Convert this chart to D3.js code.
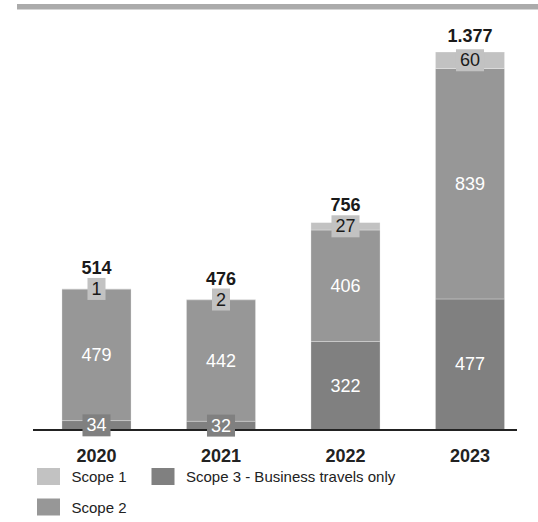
<!DOCTYPE html>
<html>
<head>
<meta charset="utf-8">
<script src="https://cdn.jsdelivr.net/npm/d3@7"></script>
<style>
  html, body { margin: 0; padding: 0; background: #fff; }
  svg { display: block; font-family: "Liberation Sans", Arial, sans-serif; }
</style>
</head>
<body>
<svg id="chart" width="538" height="522"></svg>
<script>
// Emissions by scope (tCO2e)
const years = ["2020", "2021", "2022", "2023"];
const scope3 = [34, 32, 322, 477];
const scope2 = [479, 442, 406, 839];
const scope1 = [1, 2, 27, 60];
const totals = ["514", "476", "756", "1.377"];
const seriesNames = ["Scope 3 - Business travels only", "Scope 2", "Scope 1"];
const seriesColors = ["#808080", "#979797", "#c2c2c2"];
const labelColors = ["#ffffff", "#ffffff", "#1a1a1a"];

const svg = d3.select("#chart");

// header rule
svg.append("rect").attr("x", 17).attr("y", 4).attr("width", 521).attr("height", 5.5).attr("fill", "#ababab");

const rows = years.map((y, i) => ({ year: y, s3: scope3[i], s2: scope2[i], s1: scope1[i], total: totals[i] }));
const keys = ["s3", "s2", "s1"];
const stack = d3.stack().keys(keys)(rows);

const x = d3.scaleBand().domain(years).range([34.25, 532.25]).paddingInner(0.445).paddingOuter(0.2225);
const y = d3.scaleLinear().domain([0, 1400]).range([430, 430 - 1400 * 0.2747]);

const g = svg.append("g");
stack.forEach((layer, li) => {
  g.selectAll(null).data(layer).enter().append("rect")
    .attr("x", d => x(d.data.year))
    .attr("width", x.bandwidth())
    .attr("y", d => y(d[1]))
    .attr("height", d => y(d[0]) - y(d[1]))
    .attr("fill", seriesColors[li])
    .attr("stroke", "rgba(255,255,255,0.35)")
    .attr("stroke-width", 0.8);
});

// baseline
svg.append("line").attr("x1", 33).attr("x2", 517).attr("y1", 430).attr("y2", 430)
  .attr("stroke", "#222").attr("stroke-width", 2);

// segment value labels; small segments get a backing box in the segment colour
const fs = 18;
const lbl = svg.append("g");
const boxTops = {};
stack.forEach((layer, li) => {
  layer.forEach(d => {
    const v = d[1] - d[0];
    const cx = x(d.data.year) + x.bandwidth() / 2;
    const cy = (y(d[0]) + y(d[1])) / 2;
    const h = y(d[0]) - y(d[1]);
    const t = lbl.append("text")
      .attr("x", cx).attr("y", cy)
      .attr("text-anchor", "middle").attr("dominant-baseline", "central")
      .attr("font-size", fs).attr("fill", labelColors[li]).text(String(v));
    if (h < 22) {
      const w = t.node().getComputedTextLength() + 8;
      lbl.insert("rect", () => t.node())
        .attr("x", cx - w / 2).attr("y", cy - 11).attr("width", w).attr("height", 22)
        .attr("fill", seriesColors[li]);
      if (li === 2) boxTops[d.data.year] = cy - 11;
    }
  });
});

// totals above each bar
rows.forEach(r => {
  const top = y(r.s1 + r.s2 + r.s3);
  let base = top - 10;
  if (boxTops[r.year] !== undefined) base = Math.min(base, boxTops[r.year] - 4);
  lbl.append("text")
    .attr("x", x(r.year) + x.bandwidth() / 2).attr("y", base)
    .attr("text-anchor", "middle").attr("font-size", fs).attr("font-weight", "bold")
    .attr("fill", "#1a1a1a").text(r.total);
});

// category axis labels
const xAxis = d3.axisBottom(x).tickSize(0).tickPadding(0);
const ax = svg.append("g").attr("transform", "translate(0,449)").call(xAxis);
ax.select(".domain").remove();
ax.selectAll("text").attr("font-size", fs).attr("font-weight", "bold").attr("fill", "#222")
  .attr("font-family", "Liberation Sans, Arial, sans-serif").attr("dy", "0.71em");

// legend
const legendItems = [
  { name: seriesNames[2], color: seriesColors[2], x: 37, y: 468 },
  { name: seriesNames[0], color: seriesColors[0], x: 151.5, y: 468 },
  { name: seriesNames[1], color: seriesColors[1], x: 37, y: 498.5 }
];
const lg = svg.append("g");
legendItems.forEach(it => {
  lg.append("rect").attr("x", it.x).attr("y", it.y).attr("width", 23).attr("height", 17).attr("fill", it.color);
  lg.append("text").attr("x", it.x + 34.5).attr("y", it.y + 8.5).attr("dominant-baseline", "central")
    .attr("font-size", 15).attr("fill", "#222").text(it.name);
});
</script>
</body>
</html>
